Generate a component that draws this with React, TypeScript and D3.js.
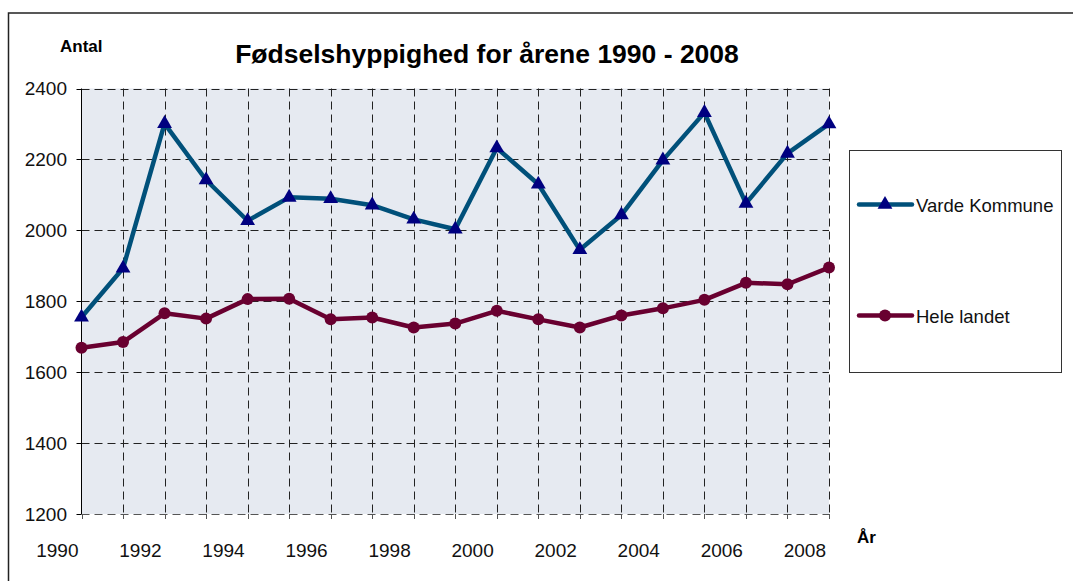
import React from "react";
import * as d3 from "d3";

// data
const years = d3.range(1990, 2009);
const vardeKommune = [1755, 1893, 2301, 2142, 2027, 2093, 2089, 2071, 2031, 2003, 2232, 2130, 1945, 2043, 2198, 2332, 2076, 2217, 2300];
const heleLandet = [1669, 1685, 1766, 1751, 1806, 1807, 1749, 1754, 1726, 1737, 1773, 1749, 1726, 1760, 1780, 1804, 1852, 1848, 1895];
const yTicks = [1200, 1400, 1600, 1800, 2000, 2200, 2400];
const xLabels = [1990, 1992, 1994, 1996, 1998, 2000, 2002, 2004, 2006, 2008];

const W = 1073;
const H = 581;
const margin = { left: 81.5, right: 829, top: 88.5, bottom: 514 };
const font = "'Liberation Sans', Arial, sans-serif";
const blue = "#00507a";
const navy = "#000080";
const wine = "#690030";

export default function App() {
  const x = d3.scaleLinear().domain([1990, 2008]).range([margin.left, margin.right]);
  const y = d3.scaleLinear().domain([1200, 2400]).range([margin.bottom, margin.top]);

  const line = d3.line<number>()
    .x((d, i) => x(years[i]))
    .y(d => y(d));

  const tri = d3.symbol().type(d3.symbolTriangle).size(95)();

  const legendItems = [
    { name: "Varde Kommune", color: blue, marker: "tri", y: 204.5 },
    { name: "Hele landet", color: wine, marker: "dot", y: 315.5 },
  ];

  return (
    <svg width={W} height={H} style={{ position: "absolute", left: 0, top: 0, background: "#fff" }}
      fontFamily={font}>
      {/* outer chart border */}
      <rect x={8.5} y={13} width={W + 10} height={H + 10} fill="none" stroke="#222" strokeWidth={1.5} />

      {/* plot area */}
      <rect x={margin.left} y={margin.top} width={margin.right - margin.left} height={margin.bottom - margin.top}
        fill="#e6eaf1" />

      {/* horizontal grid */}
      {yTicks.map(t => (
        <line key={"h" + t} x1={margin.left} x2={margin.right} y1={Math.round(y(t)) + 0.5} y2={Math.round(y(t)) + 0.5}
          stroke={t === 1200 ? "#555" : "#222"} strokeWidth={1} strokeDasharray="8,5" />
      ))}
      {/* vertical grid */}
      {years.slice(1).map(yr => (
        <line key={"v" + yr} x1={Math.round(x(yr)) + 0.5} x2={Math.round(x(yr)) + 0.5} y1={margin.top} y2={margin.bottom}
          stroke="#222" strokeWidth={1} strokeDasharray="8,5" />
      ))}

      {/* y axis */}
      <line x1={margin.left} x2={margin.left} y1={margin.top} y2={margin.bottom} stroke="#000" strokeWidth={1} />
      {yTicks.map(t => (
        <g key={"yt" + t}>
          <line x1={margin.left - 5} x2={margin.left} y1={Math.round(y(t)) + 0.5} y2={Math.round(y(t)) + 0.5} stroke="#000" />
          <text x={67} y={y(t) + 6.5} textAnchor="end" fontSize={19} fill="#111">{t}</text>
        </g>
      ))}

      {/* x ticks */}
      {years.map(yr => (
        <line key={"xt" + yr} x1={Math.round(x(yr)) + 0.5} x2={Math.round(x(yr)) + 0.5} y1={margin.bottom} y2={margin.bottom + 5}
          stroke="#555" />
      ))}
      {xLabels.map(yr => (
        <text key={"xl" + yr} x={x(yr) - 3} y={557} textAnchor="end" fontSize={19} fill="#111">{yr}</text>
      ))}

      {/* series */}
      <path d={line(vardeKommune) || ""} fill="none" stroke={blue} strokeWidth={4.5} strokeLinejoin="round" />
      <path d={line(heleLandet) || ""} fill="none" stroke={wine} strokeWidth={4.5} strokeLinejoin="round" />
      {vardeKommune.map((v, i) => (
        <path key={"m1" + i} d={tri || ""} transform={`translate(${x(years[i])},${y(v)})`} fill={navy} />
      ))}
      {heleLandet.map((v, i) => (
        <circle key={"m2" + i} cx={x(years[i])} cy={y(v)} r={6} fill={wine} />
      ))}

      {/* titles */}
      <text x={487} y={63} textAnchor="middle" fontSize={26.5} fontWeight="bold" fill="#000">
        Fødselshyppighed for årene 1990 - 2008
      </text>
      <text x={60} y={52} fontSize={17} fontWeight="bold" fill="#000">Antal</text>
      <text x={857} y={543} fontSize={17} fontWeight="bold" fill="#000">År</text>

      {/* legend */}
      <rect x={849.5} y={150.5} width={212} height={222} fill="#fff" stroke="#333" strokeWidth={1} />
      {legendItems.map(it => (
        <g key={it.name}>
          <line x1={859} x2={912} y1={it.y} y2={it.y} stroke={it.color} strokeWidth={4.5} strokeLinecap="round" />
          {it.marker === "tri"
            ? <path d={tri || ""} transform={`translate(885,${it.y})`} fill={navy} />
            : <circle cx={885} cy={it.y} r={6} fill={wine} />}
          <text x={916} y={it.y + 7} fontSize={18.5} fill="#111">{it.name}</text>
        </g>
      ))}
    </svg>
  );
}
